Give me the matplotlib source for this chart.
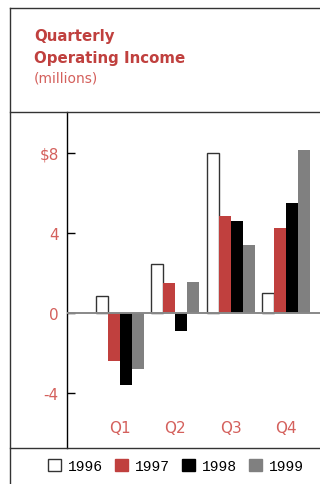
import matplotlib.pyplot as plt
from matplotlib.lines import Line2D
from matplotlib.patches import Patch
import numpy as np

quarters = ['Q1', 'Q2', 'Q3', 'Q4']
years = ['1996', '1997', '1998', '1999']
income_1996 = [0.82, 2.45, 8.0, 0.97]
income_1997 = [-2.4, 1.5, 4.85, 4.25]
income_1998 = [-3.6, -0.9, 4.6, 5.5]
income_1999 = [-2.8, 1.55, 3.4, 8.15]
yticks = [-4, 0, 4, 8]
ytick_labels = ['-4', '0', '4', '$8']

red = '#c0403e'
light_red = '#d4605c'
W, H = 320, 485

fig = plt.figure(figsize=(W / 100, H / 100), dpi=100)

def fx(px):
    return px / W

def fy(py):
    return 1 - py / H

# plot area between the rules
ax = fig.add_axes([fx(67), fy(449), fx(320) - fx(67), fy(113) - fy(449)])

series = [income_1996, income_1997, income_1998, income_1999]
fills = ['white', red, 'black', '#808080']
edges = ['#333333', 'none', 'none', 'none']
width = 0.216
x = np.arange(len(quarters))
for k, (vals, fc, ec) in enumerate(zip(series, fills, edges)):
    ax.bar(x + (k - 1.5) * width, vals, width, color=fc, edgecolor=ec,
           linewidth=1.0 if ec != 'none' else 0, zorder=2)

ax.axhline(0, color='#888888', lw=1.4, zorder=3)
ax.set_xlim(-0.95, 3.61)
ax.set_ylim(-6.77, 10.03)

for s in ['top', 'right', 'bottom']:
    ax.spines[s].set_visible(False)
ax.spines['left'].set_linewidth(1.0)
ax.set_xticks([])
ax.set_yticks(yticks)
ax.set_yticklabels(ytick_labels)
ax.tick_params(axis='y', direction='in', length=6, width=1, pad=6,
               labelcolor=light_red, labelsize=11)
for lab in ax.get_yticklabels():
    lab.set_fontfamily('DejaVu Sans')

for i, q in enumerate(quarters):
    ax.text(i, -5.77, q, color=light_red, ha='center', va='center',
            fontsize=11, family='DejaVu Sans')

# frame rules
rule = dict(color='#333333', lw=1.0, transform=fig.transFigure)
fig.add_artist(Line2D([fx(10), fx(10)], [fy(9), 0], **rule))
fig.add_artist(Line2D([fx(10), 1], [fy(9), fy(9)], **rule))
fig.add_artist(Line2D([fx(10), 1], [fy(113), fy(113)], **rule))
fig.add_artist(Line2D([fx(10), 1], [fy(449), fy(449)], **rule))

fig.text(fx(34), fy(37), 'Quarterly', color=red, fontsize=10.8,
         fontweight='bold', family='DejaVu Sans', va='center')
fig.text(fx(34), fy(58), 'Operating Income', color=red, fontsize=10.8,
         fontweight='bold', family='DejaVu Sans', va='center')
fig.text(fx(34), fy(79), '(millions)', color=light_red, fontsize=10,
         family='DejaVu Sans', va='center')

handles = [Patch(facecolor=fc, edgecolor=ec if ec != 'none' else fc, lw=1)
           for fc, ec in zip(fills, edges)]
fig.legend(handles, years, loc='center', bbox_to_anchor=(fx(176), fy(467)),
           ncol=4, frameon=False, handlelength=0.9, handleheight=0.9,
           handletextpad=0.45, columnspacing=0.85,
           prop={'family': 'Liberation Mono', 'size': 10.5})

fig.savefig('out.png', dpi=100)
